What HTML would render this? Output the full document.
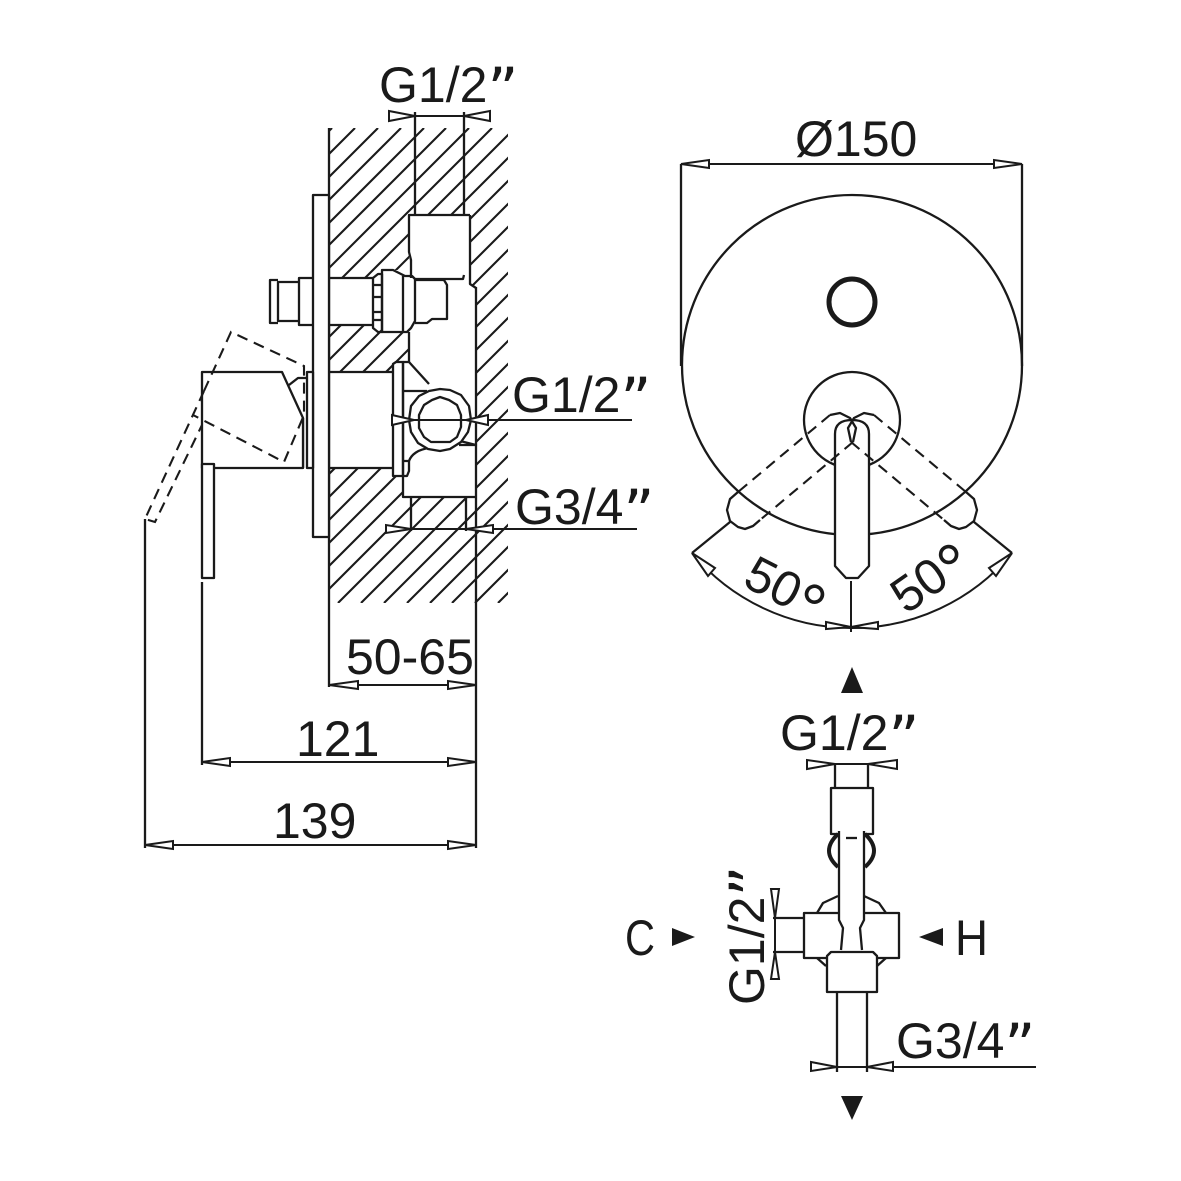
<!DOCTYPE html>
<html>
<head>
<meta charset="utf-8">
<style>
html,body{margin:0;padding:0;background:#fff}
svg{display:block}
text{font-family:"Liberation Sans",sans-serif;font-size:50px;fill:#1a1a1a}
.q{font-family:"DejaVu Sans",sans-serif;font-size:60px}
.l{fill:none;stroke:#1a1a1a;stroke-width:2.3;stroke-linejoin:round}
.t{fill:none;stroke:#1a1a1a;stroke-width:2}
.w{fill:#fff;stroke:#1a1a1a;stroke-width:2.3;stroke-linejoin:round}
.a{fill:#fff;stroke:#1a1a1a;stroke-width:2;stroke-linejoin:miter}
.d{fill:none;stroke:#1a1a1a;stroke-width:2.1;stroke-dasharray:11 7}
.h{fill:none;stroke:#1a1a1a;stroke-width:2.1}
</style>
</head>
<body>
<svg width="1181" height="1181" viewBox="0 0 1181 1181" xmlns="http://www.w3.org/2000/svg">
<defs>
<clipPath id="hc"><rect x="329" y="128" width="179" height="475"/></clipPath>
</defs>
<rect width="1181" height="1181" fill="#fff"/>

<!-- hatch -->
<path class="h" clip-path="url(#hc)" d="M332 128L-143 603M355 128L-120 603M378 128L-97 603M401 128L-74 603M424 128L-51 603M446 128L-29 603M469 128L-6 603M492 128L17 603M515 128L40 603M538 128L63 603M561 128L86 603M584 128L109 603M607 128L132 603M630 128L155 603M653 128L178 603M675 128L200 603M698 128L223 603M721 128L246 603M744 128L269 603M767 128L292 603M790 128L315 603M813 128L338 603M836 128L361 603M859 128L384 603M882 128L407 603M905 128L430 603M927 128L452 603M950 128L475 603M973 128L498 603"/>

<!-- side view wall & body -->
<path d="M409 215H470V284L476 288V497H403V476H393V362H403L409 362V332H382V270H405L409 272V215Z" fill="#fff"/>
<rect x="329" y="278" width="90" height="47" fill="#fff"/>
<rect x="329" y="372" width="70" height="96" fill="#fff"/>
<path class="l" d="M329 128V687"/>
<path class="l" d="M476 287V848"/>
<path class="l" d="M415 112V215M464 112V215"/>
<path class="l" d="M470 215H409V252L411 260V278M470 215V284L476 288"/>
<path class="l" d="M415 279H463L464 275"/>
<!-- plate -->
<rect class="w" x="313" y="195" width="16" height="342"/>
<!-- knob -->
<path class="l" d="M313 278H299V325H313M299 282H278V321H299M278 280H270V323H278"/>
<path class="l" d="M329 278H373M329 325H373"/>
<path class="l" d="M373 278L378 274H382V332H378L373 328ZM373 285H382M373 297H382M373 312H382M373 320H382"/>
<path class="l" d="M382 270H393L399 273L405 276L412 276L415 279V321L411 328L407 332H382ZM403 276V332"/>
<path class="l" d="M415 280H444L447 285V319H432L427 323H415"/>
<path class="l" d="M409 332V362"/>
<!-- handle -->
<path class="l" d="M329 372H393M329 468H393"/>
<rect class="w" x="307" y="372" width="6" height="96"/>
<path class="l" d="M303 418V468"/>
<path class="w" d="M202 372H282L303 418V468H202Z"/>
<path class="l" d="M289 385L298 378H307"/>
<rect class="w" x="202" y="464" width="12" height="114"/>
<path class="d" d="M204 391L231 332L304 366V415L284 462L193 415"/>
<path class="d" d="M204 391L145 519L155 522L202 425"/>
<path class="l" d="M145 519V848M202 582V765"/>
<!-- flange and valve -->
<path class="w" d="M393 364L396 362H403V476H393Z"/>
<path class="l" d="M403 362H409L429 384"/>
<path class="l" d="M403 362V497H476M403 391H427"/>
<path class="l" d="M403 476H407L409 471V461H404"/>
<path class="l" d="M409 461C411 455 418 449 430 448"/>
<path class="l" d="M460 441L476 445H459"/>
<path class="w" d="M440 389L450 390L461 395L469 406L471 420L468 432L461 442L450 449L440 451L428 449L418 443L411 432L409 420L411 406L419 396L429 391Z"/>
<path class="l" d="M440 397L449 400L457 405L461 415V427L457 437L450 442H431L424 437L419 428V415L424 405L432 400Z"/>
<path class="l" d="M411 497V531M466 497V531"/>

<!-- dims side -->
<path class="t" d="M392 116H490"/>
<path class="a" d="M415 116L389 111V121Z"/>
<path class="a" d="M464 116L490 111V121Z"/>
<path class="t" d="M392 420H632"/>
<path class="a" d="M414 420L392 415V425Z"/>
<path class="a" d="M466 420L488 415V425Z"/>
<path class="t" d="M386 529H637"/>
<path class="a" d="M411 529L386 525V533Z"/>
<path class="a" d="M466 529L493 525V533Z"/>
<path class="t" d="M329 685H476M202 762H476M145 845H476"/>
<path class="a" d="M329 685L358 681V689Z"/>
<path class="a" d="M476 685L448 681V689Z"/>
<path class="a" d="M202 762L230 758V766Z"/>
<path class="a" d="M476 762L448 758V766Z"/>
<path class="a" d="M145 845L173 841V849Z"/>
<path class="a" d="M476 845L448 841V849Z"/>

<!-- front view -->
<circle class="l" cx="852" cy="365" r="170"/>
<path class="l" d="M681 164V366M1022 164V366"/>
<path class="t" d="M681 164H1022"/>
<path class="a" d="M681 164L709 160V168Z"/>
<path class="a" d="M1022 164L994 160V168Z"/>
<circle cx="852" cy="302" r="23" fill="none" stroke="#1a1a1a" stroke-width="5"/>
<circle class="l" cx="852" cy="420" r="48"/>
<path class="w" d="M835 434Q835 420 852 420Q869 420 869 434V566L858 578H846L835 566Z"/>
<path class="d" d="M830 415L738 492"/>
<path class="d" d="M853 442L760 520"/>
<path class="d" d="M874 415L966 492"/>
<path class="d" d="M851 442L944 520"/>
<path class="l" d="M738 492L730 499L727 510L730 521L738 527L745 529L753 526L760 520"/>
<path class="l" d="M966 492L974 499L977 510L974 521L966 527L959 529L951 526L944 520"/>
<path class="l" d="M830 415L840 413L850 418L856 428L853 442"/>
<path class="l" d="M874 415L864 413L854 418L848 428L851 442"/>
<path class="l" d="M692 553L730 522M1012 553L974 522"/>
<path class="l" d="M692 553A208 208 0 0 0 851 628A208 208 0 0 0 1012 553" style="stroke-width:2"/>
<path class="l" d="M851 581V632" style="stroke-width:2"/>
<path class="a" d="M692 553L708 576L715 568Z"/>
<path class="a" d="M1012 553L996 576L989 568Z"/>
<path class="a" d="M851 627L826 622V629Z"/>
<path class="a" d="M851 627L878 622V629Z"/>

<!-- bottom view -->
<path class="t" d="M807 764H897"/>
<path class="a" d="M835 764L807 760V769Z"/>
<path class="a" d="M868 764L897 760V769Z"/>
<path class="l" d="M835 764V788M868 764V788"/>
<rect class="w" x="831" y="788" width="42" height="46"/>
<path d="M838 834Q820 851 838 867M865 834Q883 851 865 867" fill="none" stroke="#1a1a1a" stroke-width="4"/>
<path class="l" d="M838 896L823 903L817 913M864 896L879 903L886 913"/>
<path class="l" d="M817 958L826 966M886 958L877 966"/>
<rect class="l" x="804" y="913" width="95" height="45"/>
<path class="l" d="M804 918H773M804 952H773"/>
<path d="M839 832H864V950H839Z" fill="#fff"/>
<path class="l" d="M839 831V920L843 928L841 950M864 831V920L860 928L862 950"/>
<path class="l" d="M846 838H857"/>
<path class="w" d="M831 952H873L877 956V992H827V956Z"/>
<path class="l" d="M837 992V1072M867 992V1072"/>
<path class="t" d="M811 1067H1036"/>
<path class="a" d="M837 1067L811 1062V1071Z"/>
<path class="a" d="M867 1067L893 1062V1071Z"/>
<path class="t" d="M775 889V979"/>
<path class="a" d="M775 918L771 889H779Z"/>
<path class="a" d="M775 952L771 979H779Z"/>
<path d="M852 667L863 693H841Z" fill="#1a1a1a"/>
<path d="M852 1120L863 1096H841Z" fill="#1a1a1a"/>
<path d="M695 937L672 928V946Z" fill="#1a1a1a"/>
<path d="M919 937L943 928V946Z" fill="#1a1a1a"/>

<!-- text -->
<text x="379" y="102">G1/2<tspan class="q" dy="8">”</tspan></text>
<text x="795" y="156">Ø150</text>
<text x="512" y="412">G1/2<tspan class="q" dy="8">”</tspan></text>
<text x="515" y="524">G3/4<tspan class="q" dy="8">”</tspan></text>
<text x="346" y="674">50-65</text>
<text x="296" y="756">121</text>
<text x="273" y="838">139</text>
<text x="780" y="750">G1/2<tspan class="q" dy="8">”</tspan></text>
<text x="896" y="1058">G3/4<tspan class="q" dy="8">”</tspan></text>
<text x="625" y="955" textLength="30" lengthAdjust="spacingAndGlyphs">C</text>
<text x="955" y="955" textLength="33" lengthAdjust="spacingAndGlyphs">H</text>
<text transform="translate(764 1005) rotate(-90)">G1/2<tspan class="q" dy="8">”</tspan></text>
<text transform="translate(741 585) rotate(27)">50<tspan font-size="70" dy="14">°</tspan></text>
<text transform="translate(906 615) rotate(-35)">50<tspan font-size="70" dy="14">°</tspan></text>
</svg>
</body>
</html>
